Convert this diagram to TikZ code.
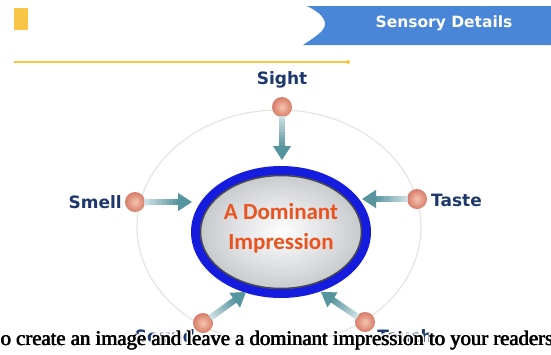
\documentclass[tikz,border=0pt]{standalone}
\usepackage{fontspec}
\setmainfont{Liberation Serif}
\newfontfamily\labelfont{DejaVu Sans}
\newfontfamily\centrefont{Carlito}
\usetikzlibrary{arrows.meta,calc,shapes.geometric}

\definecolor{bannerblue}{RGB}{74,134,216}
\definecolor{markyellow}{RGB}{248,198,70}
\definecolor{ringgrey}{RGB}{232,229,222}
\definecolor{ringblue}{RGB}{22,28,222}
\definecolor{centregrey}{RGB}{196,199,202}
\definecolor{edgegrey}{RGB}{70,72,76}
\definecolor{labelnavy}{RGB}{28,56,108}
\definecolor{impressred}{RGB}{234,82,30}
\definecolor{dotlight}{RGB}{246,196,176}
\definecolor{dotdark}{RGB}{214,124,104}
\definecolor{arrowteal}{RGB}{86,148,158}
\definecolor{arrowpale}{RGB}{214,230,233}

\tikzset{
  sense/.style={font=\labelfont\bfseries\fontsize{17}{20}\selectfont, text=labelnavy, inner sep=0pt},
  sensedot/.style={circle, minimum size=20pt, inner sep=0pt, inner color=dotlight, outer color=dotdark},
  subtitle/.style={font=\fontsize{20.7}{23}\selectfont, inner sep=0pt, anchor=base}
}

% shaded arrow from a dot to a tip coordinate
\newcommand{\sensearrow}[2]{%
  \coordinate (sa-from) at ($(#1)!9pt!(#2)$);
  \coordinate (sa-base) at ($(#2)!12pt!(#1)$);
  \foreach \k in {0,...,9}{%
    \pgfmathtruncatemacro\shadeval{8+\k*10}%
    \draw[line width=6pt, draw=arrowteal!\shadeval!arrowpale] ($(sa-from)!\k/10!(sa-base)$) -- ($(sa-from)!{(\k+1.4)/10}!(sa-base)$);
  }%
  \draw[arrowteal, line width=1pt, -{Triangle[length=14pt,width=18pt]}] (sa-base) -- (#2);
}

\begin{document}
\begin{tikzpicture}[x=1pt,y=-1pt]
\useasboundingbox (0,0) rectangle (551,354);
\fill[white] (0,0) rectangle (551,354);
% Banner
\fill[bannerblue] (307,6) -- (551,6) -- (551,45) -- (303,45)
  .. controls (315,37) and (325,31) .. (325,24)
  .. controls (325,16) and (315,10) .. (307,6) -- cycle;
\node[font=\labelfont\bfseries\fontsize{15.5}{18}\selectfont, text=white, inner sep=0pt] (title) at (444,23) {Sensory Details};
% Marca amarilla
\fill[markyellow] (14,8) rectangle (28,30);
\draw[markyellow, line width=1.5pt] (14,62) -- (348,62);
\fill[markyellow] (348,62) circle (2pt);
% Anillo exterior
\draw[ringgrey, line width=1.2pt] (279,227) ellipse [x radius=142, y radius=117];
% Centro
\node[ellipse, minimum width=171pt, minimum height=123pt, draw=ringblue, line width=9pt,
  inner color=white, outer color=centregrey] (centre) at (281,232) {};
\draw[edgegrey, line width=1.5pt] (centre.center) ellipse [x radius=80.5, y radius=56.5];
\node[font=\centrefont\bfseries\fontsize{23}{30}\selectfont, text=impressred, align=center, inner sep=0pt] (impression) at (281,228) {A Dominant\\Impression};
% Puntos
\node[sensedot] (sightdot) at (282,107) {};
\node[sensedot] (smelldot) at (135,202) {};
\node[sensedot] (tastedot) at (417,199) {};
\node[sensedot] (sounddot) at (203,323) {};
\node[sensedot] (touchdot) at (365,322) {};
% Etiquetas
\node[sense] (sight) at (282,80) {Sight};
\node[sense, anchor=east] (smell) at (122,202) {Smell};
\node[sense, anchor=west] (taste) at (431,200) {Taste};
\node[sense] (sound) at (165,336) {Sound};
\node[sense] (touch) at (405,336) {Touch};
% Flechas
\coordinate (sighttip) at (282,160);
\coordinate (smelltip) at (192,202);
\coordinate (tastetip) at (362,199);
\coordinate (soundtip) at (246,292);
\coordinate (touchtip) at (321,292);
\sensearrow{sightdot}{sighttip}
\sensearrow{smelldot}{smelltip}
\sensearrow{tastedot}{tastetip}
\sensearrow{sounddot}{soundtip}
\sensearrow{touchdot}{touchtip}
% Subtitulo
\coordinate (captionpos) at (277,345);
\foreach \dx/\dy in {-1.3/-1.3,1.3/-1.3,-1.3/1.3,1.3/1.3,0/-1.8,0/1.8,-1.8/0,1.8/0}
  \node[subtitle, text=white] at ($(captionpos)+(\dx,\dy)$) {o create an image and leave a dominant impression to your readers};
\foreach \dx in {-0.4,0.4}
  \node[subtitle, text=black] at ($(captionpos)+(\dx,0)$) {o create an image and leave a dominant impression to your readers};
\node[subtitle, text=black] (caption) at (captionpos) {o create an image and leave a dominant impression to your readers};
\end{tikzpicture}
\end{document}
